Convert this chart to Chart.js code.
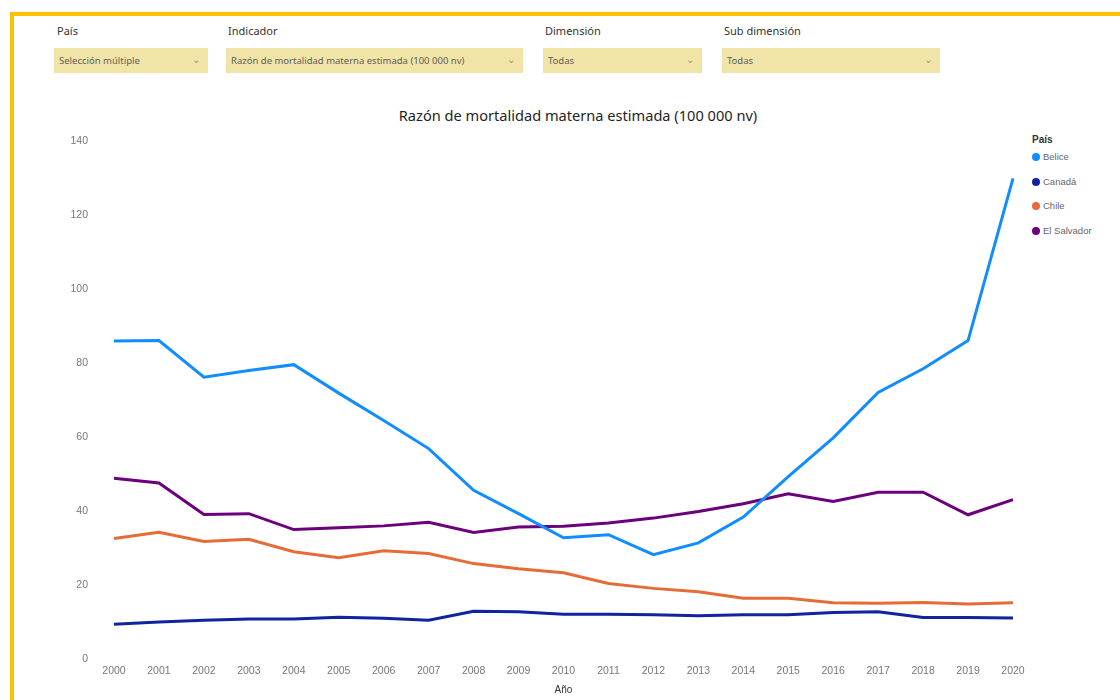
<!DOCTYPE html>
<html>
<head>
<meta charset="utf-8">
<script src="https://cdn.jsdelivr.net/npm/chart.js@4.4.1/dist/chart.umd.min.js"></script>
<style>
  html, body { margin:0; padding:0; background:#fff; }
  body { width:1120px; height:700px; position:relative; overflow:hidden; font-family:"Noto Sans","Open Sans",sans-serif; }
  .frameTop { position:absolute; left:10px; top:12px; width:1110px; height:4px; background:#FFC000; }
  .frameLeft { position:absolute; left:10px; top:12px; width:4px; height:688px; background:#FFC000; }
  .flabel { position:absolute; top:23px; font-size:11px; color:#333; }
  .fbox { position:absolute; top:48px; height:25px; background:#F0E4A6; font-size:9.5px; color:#605E5C; line-height:25px; padding-left:5px; box-sizing:border-box; }
  .fbox .chev { position:absolute; right:8px; top:-1px; color:#999; font-size:10px; }
  .title { position:absolute; left:0; width:1156px; top:105px; text-align:center; font-size:14.6px; color:#252423; }
  .legend { position:absolute; left:1032px; top:134px; font-family:"Liberation Sans",sans-serif; }
  .legend .lt { font-size:10px; color:#333; font-weight:bold; margin-bottom:6px; }
  .legend .it { position:relative; height:24.5px; font-size:9.5px; color:#666; padding-left:11px; line-height:12px; }
  .legend .dot { position:absolute; left:0; top:2px; width:8px; height:8px; border-radius:50%; }
  #wrap { position:absolute; left:0; top:109px; width:1120px; height:591px; }
</style>
</head>
<body>
<div class="frameTop"></div>
<div class="frameLeft"></div>

<div class="flabel" style="left:57px;">País</div>
<div class="fbox" style="left:54px;width:154px;">Selección múltiple<span class="chev">&#8964;</span></div>
<div class="flabel" style="left:228px;">Indicador</div>
<div class="fbox" style="left:226px;width:297px;">Razón de mortalidad materna estimada (100 000 nv)<span class="chev">&#8964;</span></div>
<div class="flabel" style="left:545px;">Dimensión</div>
<div class="fbox" style="left:543px;width:159px;">Todas<span class="chev">&#8964;</span></div>
<div class="flabel" style="left:724px;">Sub dimensión</div>
<div class="fbox" style="left:722px;width:218px;">Todas<span class="chev">&#8964;</span></div>

<div class="title">Razón de mortalidad materna estimada (100 000 nv)</div>

<div class="legend" id="legend"><div class="lt">País</div></div>

<div id="wrap"><canvas id="c" width="1120" height="591"></canvas></div>

<script>
const years = ["2000","2001","2002","2003","2004","2005","2006","2007","2008","2009","2010","2011","2012","2013","2014","2015","2016","2017","2018","2019","2020"];
const countries = ["Belice","Canadá","Chile","El Salvador"];
const colors = ["#118DFF","#12239E","#E66C37","#6B007B"];
const yTicks = [0,20,40,60,80,100,120,140];

const belice     = [86.0,86.1,76.2,78.0,79.6,71.9,64.5,56.9,45.6,39.3,32.8,33.6,28.2,31.4,38.4,49.3,59.8,72.1,78.5,86.1,130.0];
const canada     = [9.4,10.0,10.5,10.8,10.8,11.3,11.0,10.5,12.9,12.8,12.1,12.1,12.0,11.7,12.0,12.0,12.6,12.8,11.2,11.2,11.1];
const chile      = [32.6,34.3,31.8,32.4,29.0,27.4,29.3,28.5,25.8,24.4,23.3,20.4,19.1,18.2,16.4,16.4,15.2,15.1,15.3,14.9,15.2];
const elSalvador = [48.9,47.6,39.1,39.3,35.0,35.5,36.0,37.0,34.2,35.7,35.9,36.8,38.1,39.9,42.0,44.7,42.6,45.1,45.1,39.0,43.1];

const seriesData = [belice, canada, chile, elSalvador];

const leg = document.getElementById('legend');
countries.forEach((n,i)=>{
  const d = document.createElement('div'); d.className='it';
  d.innerHTML = '<span class="dot" style="background:'+colors[i]+'"></span>'+n;
  leg.appendChild(d);
});

const tickFont = {family:"'Liberation Sans', sans-serif", size:10.5};

new Chart(document.getElementById('c'), {
  type:'line',
  data:{
    labels: years,
    datasets: countries.map((n,i)=>({
      label:n, data:seriesData[i], borderColor:colors[i], backgroundColor:colors[i],
      borderWidth:3, pointRadius:0, tension:0, fill:false
    }))
  },
  options:{
    responsive:false, animation:false,
    layout:{padding:{top:10,left:0,right:107,bottom:0}},
    plugins:{legend:{display:false}, tooltip:{enabled:false}},
    scales:{
      x:{
        type:'category', offset:false,
        grid:{display:false, drawTicks:false}, border:{display:false},
        ticks:{color:'#777', font:tickFont, padding:6, maxRotation:0, autoSkip:false},
        title:{display:true, text:'Año', color:'#333', font:{family:"'Liberation Sans', sans-serif", size:10}, padding:{top:0,bottom:4}},
        afterFit:(s)=>{ s.height = 41; }
      },
      y:{
        min:0, max:140,
        afterBuildTicks:(s)=>{ s.ticks = yTicks.map(v=>({value:v})); },
        grid:{display:false, drawTicks:false}, border:{display:false},
        ticks:{color:'#777', font:tickFont, padding:26},
        afterFit:(s)=>{ s.width = 114; }
      }
    }
  }
});
</script>
</body>
</html>
